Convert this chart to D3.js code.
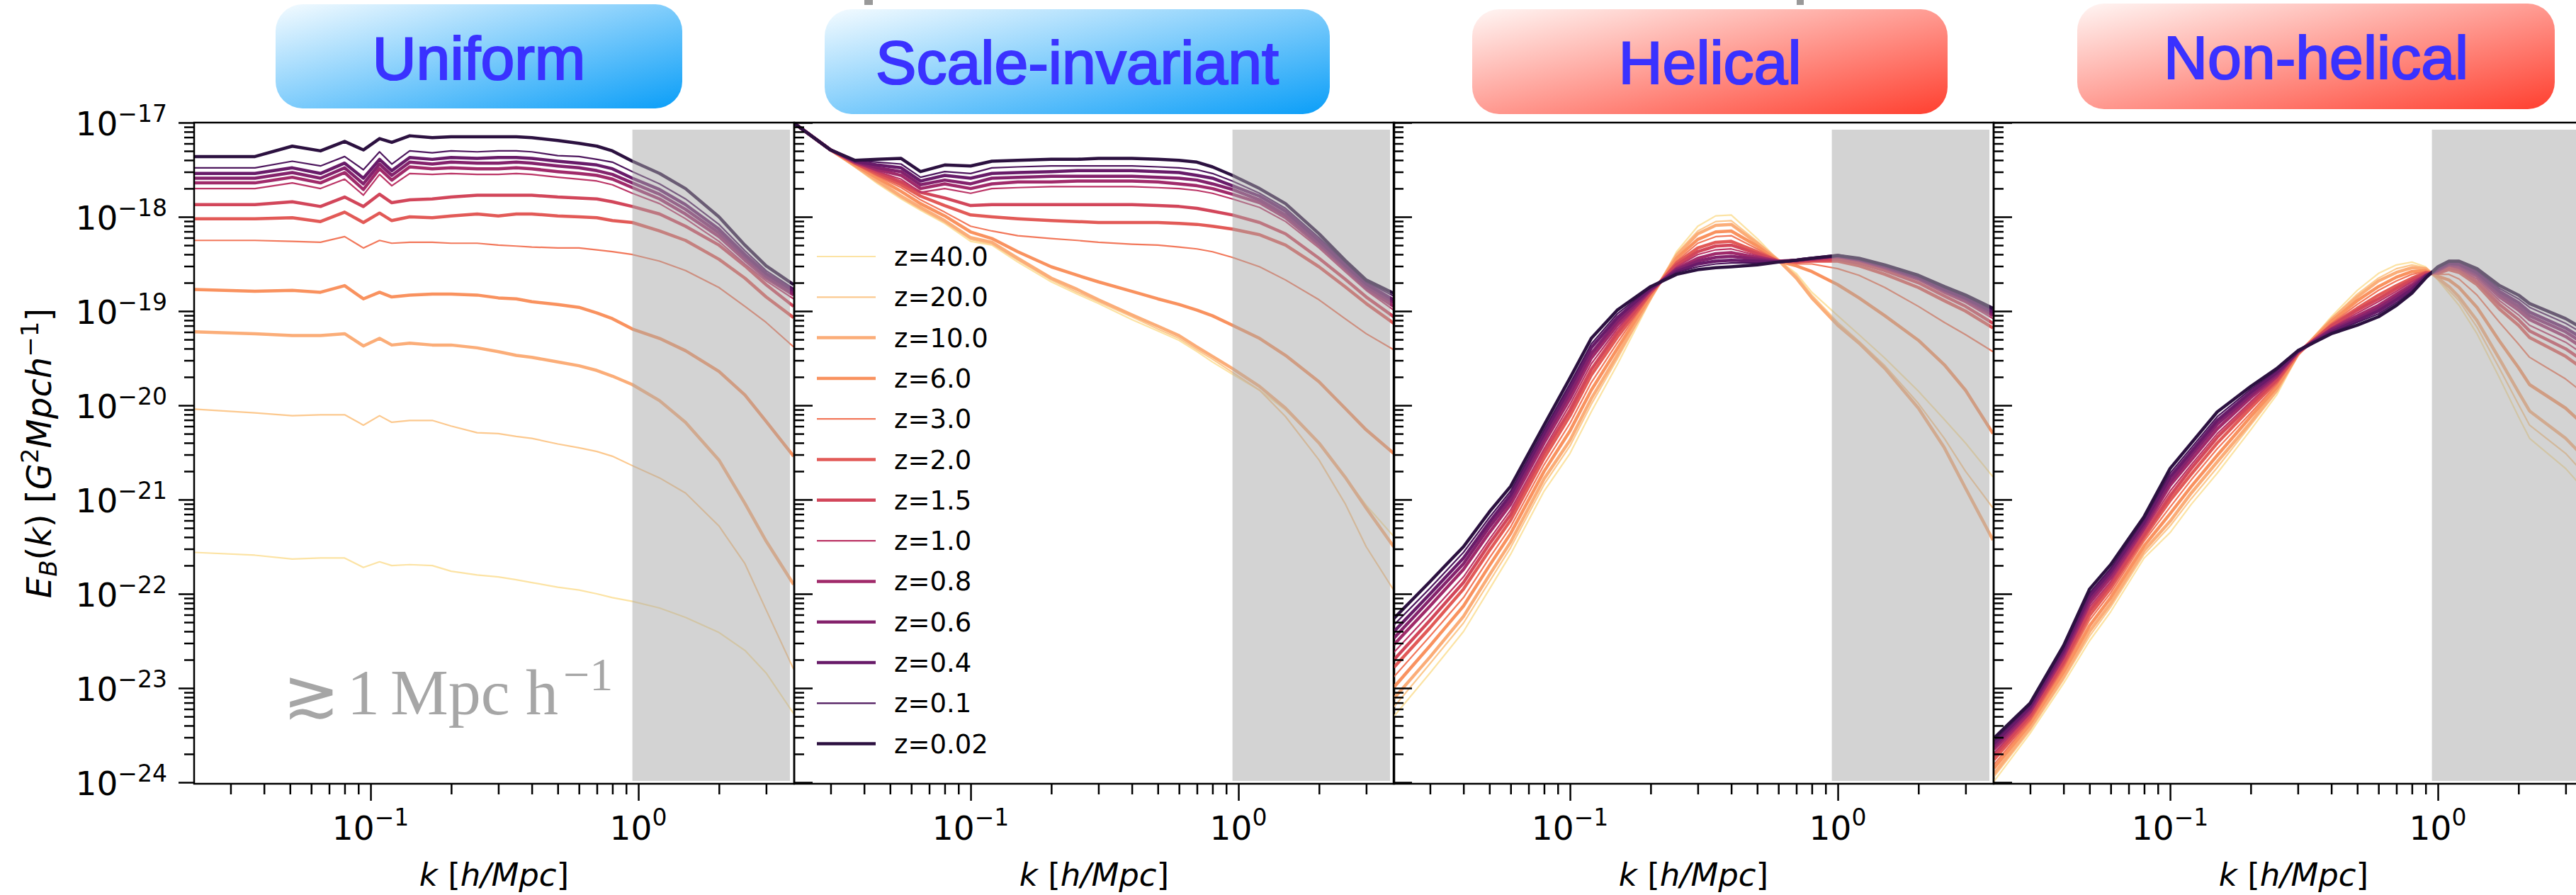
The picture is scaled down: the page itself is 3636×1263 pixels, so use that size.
<!DOCTYPE html>
<html>
<head>
<meta charset="utf-8">
<script src="https://cdn.jsdelivr.net/npm/d3@7"></script>
<style>
  body { margin: 0; background: white; }
  svg { display: block; }
</style>
</head>
<body>
<div id="container"></div>
<script>
let w = 3636;
let h = 1263;

// redshifts, in legend / drawing order (light first, dark drawn last)
let redshifts = ["40.0", "20.0", "10.0", "6.0", "3.0", "2.0", "1.5", "1.0", "0.8", "0.6", "0.4", "0.1", "0.02"];
let lineColors = ["#fce3a4", "#fcc98f", "#fbad78", "#f9925f", "#f2785b", "#e25a57", "#d2465a",
                  "#bb3566", "#a02a6a", "#84226c", "#681b69", "#4d165d", "#2c1140"];
let thinLine = [true, true, false, false, true, false, false, true, false, false, false, true, false];

let panelTitles = ["Uniform", "Scale-invariant", "Helical", "Non-helical"];
let yTickExponents = [17, 18, 19, 20, 21, 22, 23, 24];
let xTickValues = [0.1, 1];
let xTickExponents = ["\u22121", "0"];

// log10 of E_B(k), one row per redshift (same order as redshifts)
let kUniform = [0.022, 0.037, 0.051, 0.065, 0.08, 0.094, 0.108, 0.12, 0.14, 0.17, 0.2, 0.25, 0.3, 0.35, 0.4, 0.5, 0.6, 0.7, 0.8, 0.95, 1.2, 1.5, 2.0, 2.5, 3.0, 3.8];
let uniformLogE = [
  [-21.56,-21.59,-21.63,-21.62,-21.62,-21.72,-21.66,-21.70,-21.69,-21.70,-21.76,-21.80,-21.82,-21.85,-21.88,-21.93,-21.96,-22.00,-22.04,-22.08,-22.15,-22.25,-22.41,-22.60,-22.84,-23.27],
  [-20.04,-20.08,-20.11,-20.10,-20.10,-20.21,-20.11,-20.18,-20.16,-20.16,-20.22,-20.29,-20.30,-20.33,-20.35,-20.41,-20.45,-20.49,-20.54,-20.64,-20.77,-20.93,-21.28,-21.68,-22.17,-22.80],
  [-19.22,-19.24,-19.26,-19.26,-19.24,-19.37,-19.29,-19.36,-19.34,-19.36,-19.36,-19.39,-19.43,-19.47,-19.49,-19.54,-19.58,-19.63,-19.69,-19.78,-19.95,-20.18,-20.58,-21.04,-21.44,-21.90],
  [-18.77,-18.79,-18.78,-18.80,-18.73,-18.87,-18.80,-18.85,-18.83,-18.82,-18.82,-18.83,-18.86,-18.87,-18.90,-18.93,-18.96,-19.02,-19.08,-19.19,-19.29,-19.42,-19.64,-19.89,-20.17,-20.54],
  [-18.25,-18.25,-18.26,-18.27,-18.21,-18.33,-18.25,-18.28,-18.27,-18.27,-18.28,-18.28,-18.30,-18.31,-18.32,-18.33,-18.33,-18.35,-18.37,-18.40,-18.47,-18.57,-18.75,-18.95,-19.12,-19.38],
  [-18.02,-18.02,-18.01,-18.05,-17.95,-18.06,-17.96,-18.04,-18.00,-18.01,-17.99,-17.97,-17.99,-17.97,-17.97,-17.99,-18.00,-18.01,-18.04,-18.06,-18.15,-18.25,-18.45,-18.65,-18.85,-19.07],
  [-17.87,-17.87,-17.84,-17.89,-17.79,-17.89,-17.76,-17.85,-17.82,-17.81,-17.79,-17.77,-17.77,-17.77,-17.77,-17.79,-17.80,-17.81,-17.84,-17.89,-17.97,-18.10,-18.30,-18.52,-18.72,-18.95],
  [-17.70,-17.70,-17.64,-17.70,-17.60,-17.77,-17.55,-17.67,-17.54,-17.55,-17.54,-17.55,-17.55,-17.54,-17.55,-17.58,-17.60,-17.62,-17.66,-17.75,-17.86,-18.02,-18.26,-18.50,-18.68,-18.87],
  [-17.64,-17.64,-17.58,-17.64,-17.53,-17.71,-17.49,-17.61,-17.47,-17.49,-17.48,-17.49,-17.49,-17.48,-17.49,-17.52,-17.54,-17.56,-17.60,-17.69,-17.81,-17.97,-18.21,-18.46,-18.65,-18.83],
  [-17.59,-17.59,-17.53,-17.59,-17.48,-17.65,-17.44,-17.56,-17.42,-17.44,-17.42,-17.43,-17.43,-17.42,-17.43,-17.46,-17.48,-17.51,-17.55,-17.64,-17.76,-17.92,-18.17,-18.43,-18.63,-18.81],
  [-17.54,-17.54,-17.48,-17.54,-17.43,-17.59,-17.39,-17.51,-17.37,-17.39,-17.37,-17.38,-17.37,-17.37,-17.38,-17.41,-17.43,-17.45,-17.49,-17.59,-17.71,-17.87,-18.13,-18.40,-18.60,-18.78],
  [-17.48,-17.48,-17.41,-17.46,-17.36,-17.50,-17.31,-17.44,-17.30,-17.32,-17.30,-17.31,-17.30,-17.30,-17.31,-17.35,-17.36,-17.39,-17.42,-17.52,-17.65,-17.81,-18.08,-18.36,-18.57,-18.76],
  [-17.36,-17.36,-17.25,-17.30,-17.20,-17.29,-17.17,-17.21,-17.14,-17.16,-17.15,-17.15,-17.15,-17.15,-17.16,-17.19,-17.22,-17.25,-17.30,-17.41,-17.54,-17.70,-18.00,-18.30,-18.52,-18.72]
];

let kScale = [0.022, 0.03, 0.037, 0.045, 0.055, 0.065, 0.08, 0.1, 0.12, 0.15, 0.2, 0.25, 0.3, 0.4, 0.5, 0.6, 0.7, 0.8, 0.95, 1.2, 1.5, 2.0, 2.5, 3.0, 3.8];
let scaleLogE = [
  [-17.01,-17.29,-17.47,-17.65,-17.81,-17.93,-18.07,-18.26,-18.30,-18.48,-18.69,-18.82,-18.92,-19.09,-19.21,-19.31,-19.43,-19.54,-19.67,-19.84,-20.05,-20.40,-20.76,-21.06,-21.39],
  [-17.01,-17.29,-17.47,-17.64,-17.80,-17.92,-18.06,-18.24,-18.29,-18.46,-18.67,-18.80,-18.90,-19.06,-19.19,-19.29,-19.41,-19.51,-19.65,-19.84,-20.12,-20.58,-21.04,-21.50,-21.96],
  [-17.01,-17.29,-17.46,-17.62,-17.78,-17.90,-18.04,-18.22,-18.27,-18.44,-18.65,-18.77,-18.88,-19.04,-19.16,-19.26,-19.38,-19.48,-19.61,-19.80,-20.03,-20.40,-20.76,-21.09,-21.50],
  [-17.01,-17.29,-17.45,-17.59,-17.73,-17.86,-17.99,-18.16,-18.23,-18.37,-18.53,-18.62,-18.69,-18.79,-18.87,-18.93,-18.99,-19.05,-19.15,-19.29,-19.47,-19.75,-20.03,-20.26,-20.51],
  [-17.01,-17.29,-17.44,-17.57,-17.69,-17.82,-17.95,-18.10,-18.15,-18.20,-18.23,-18.25,-18.27,-18.29,-18.30,-18.32,-18.34,-18.37,-18.43,-18.53,-18.67,-18.88,-19.08,-19.24,-19.41],
  [-17.01,-17.29,-17.43,-17.55,-17.66,-17.78,-17.88,-17.98,-18.00,-18.02,-18.04,-18.05,-18.06,-18.06,-18.06,-18.07,-18.08,-18.10,-18.13,-18.19,-18.30,-18.53,-18.74,-18.92,-19.13],
  [-17.01,-17.29,-17.43,-17.53,-17.63,-17.74,-17.80,-17.88,-17.87,-17.87,-17.87,-17.87,-17.87,-17.87,-17.88,-17.89,-17.91,-17.94,-17.98,-18.06,-18.18,-18.44,-18.66,-18.85,-19.06],
  [-17.01,-17.29,-17.42,-17.52,-17.60,-17.74,-17.70,-17.75,-17.70,-17.69,-17.68,-17.68,-17.68,-17.68,-17.69,-17.70,-17.72,-17.75,-17.81,-17.90,-18.05,-18.33,-18.58,-18.78,-18.99],
  [-17.01,-17.29,-17.42,-17.50,-17.56,-17.70,-17.65,-17.70,-17.65,-17.63,-17.63,-17.62,-17.62,-17.62,-17.63,-17.65,-17.67,-17.70,-17.76,-17.85,-18.01,-18.30,-18.55,-18.76,-18.95],
  [-17.01,-17.29,-17.41,-17.48,-17.52,-17.66,-17.61,-17.65,-17.59,-17.58,-17.57,-17.57,-17.57,-17.57,-17.58,-17.59,-17.61,-17.65,-17.71,-17.82,-17.98,-18.28,-18.53,-18.74,-18.91],
  [-17.01,-17.29,-17.41,-17.45,-17.48,-17.62,-17.56,-17.59,-17.54,-17.53,-17.52,-17.51,-17.51,-17.51,-17.52,-17.53,-17.56,-17.59,-17.67,-17.78,-17.94,-18.25,-18.51,-18.71,-18.88],
  [-17.01,-17.29,-17.40,-17.42,-17.44,-17.58,-17.52,-17.54,-17.48,-17.47,-17.46,-17.46,-17.46,-17.46,-17.47,-17.48,-17.50,-17.54,-17.62,-17.75,-17.91,-18.22,-18.48,-18.69,-18.84],
  [-17.01,-17.29,-17.40,-17.39,-17.38,-17.52,-17.45,-17.46,-17.41,-17.40,-17.39,-17.39,-17.38,-17.38,-17.39,-17.40,-17.42,-17.47,-17.56,-17.70,-17.86,-18.18,-18.46,-18.67,-18.81]
];

let kHelical = [0.022, 0.03, 0.04, 0.05, 0.06, 0.08, 0.1, 0.12, 0.15, 0.2, 0.25, 0.3, 0.35, 0.4, 0.5, 0.6, 0.7, 0.8, 1.0, 1.2, 1.5, 2.0, 2.5, 3.0, 3.8];
let helicalLogE = [
  [-23.30,-22.84,-22.40,-21.95,-21.58,-20.91,-20.51,-20.07,-19.57,-18.88,-18.37,-18.10,-17.99,-17.98,-18.23,-18.46,-18.60,-18.80,-19.05,-19.25,-19.50,-19.85,-20.15,-20.40,-20.76],
  [-23.20,-22.74,-22.31,-21.87,-21.51,-20.84,-20.43,-19.99,-19.51,-18.87,-18.39,-18.15,-18.05,-18.04,-18.26,-18.46,-18.62,-18.83,-19.12,-19.32,-19.58,-19.98,-20.35,-20.70,-21.09],
  [-23.11,-22.67,-22.24,-21.80,-21.45,-20.78,-20.37,-19.93,-19.47,-18.86,-18.41,-18.18,-18.09,-18.08,-18.28,-18.46,-18.65,-18.86,-19.15,-19.34,-19.61,-20.03,-20.45,-20.88,-21.43],
  [-22.99,-22.55,-22.13,-21.70,-21.36,-20.70,-20.27,-19.84,-19.40,-18.84,-18.44,-18.24,-18.16,-18.15,-18.31,-18.47,-18.52,-18.58,-18.72,-18.86,-19.05,-19.31,-19.57,-19.84,-20.30],
  [-22.88,-22.45,-22.04,-21.62,-21.29,-20.63,-20.19,-19.76,-19.34,-18.82,-18.47,-18.28,-18.21,-18.20,-18.34,-18.47,-18.50,-18.50,-18.55,-18.62,-18.75,-18.95,-19.12,-19.25,-19.43],
  [-22.78,-22.36,-21.95,-21.54,-21.22,-20.56,-20.11,-19.68,-19.28,-18.81,-18.49,-18.33,-18.27,-18.26,-18.37,-18.47,-18.48,-18.47,-18.47,-18.52,-18.61,-18.75,-18.89,-19.00,-19.18],
  [-22.70,-22.28,-21.88,-21.47,-21.16,-20.50,-20.05,-19.62,-19.23,-18.80,-18.51,-18.37,-18.31,-18.30,-18.39,-18.47,-18.47,-18.46,-18.45,-18.49,-18.57,-18.70,-18.84,-18.95,-19.13],
  [-22.62,-22.21,-21.82,-21.42,-21.11,-20.46,-19.99,-19.56,-19.19,-18.79,-18.53,-18.40,-18.35,-18.34,-18.41,-18.47,-18.47,-18.45,-18.43,-18.47,-18.55,-18.67,-18.81,-18.91,-19.08],
  [-22.54,-22.13,-21.74,-21.35,-21.05,-20.40,-19.93,-19.50,-19.15,-18.78,-18.55,-18.44,-18.39,-18.38,-18.43,-18.47,-18.46,-18.45,-18.42,-18.46,-18.54,-18.66,-18.79,-18.89,-19.05],
  [-22.47,-22.06,-21.68,-21.29,-21.00,-20.35,-19.87,-19.45,-19.11,-18.77,-18.56,-18.47,-18.43,-18.42,-18.45,-18.48,-18.46,-18.44,-18.42,-18.45,-18.53,-18.65,-18.78,-18.87,-19.03],
  [-22.40,-22.00,-21.62,-21.24,-20.95,-20.30,-19.81,-19.39,-19.07,-18.76,-18.58,-18.50,-18.47,-18.46,-18.47,-18.48,-18.46,-18.44,-18.41,-18.45,-18.52,-18.64,-18.77,-18.86,-19.01],
  [-22.33,-21.94,-21.56,-21.19,-20.91,-20.26,-19.77,-19.35,-19.03,-18.75,-18.59,-18.53,-18.50,-18.49,-18.49,-18.48,-18.46,-18.44,-18.41,-18.44,-18.51,-18.63,-18.75,-18.84,-18.99],
  [-22.26,-21.87,-21.50,-21.13,-20.86,-20.21,-19.71,-19.29,-18.99,-18.74,-18.61,-18.56,-18.54,-18.53,-18.51,-18.48,-18.46,-18.44,-18.41,-18.44,-18.51,-18.62,-18.74,-18.83,-18.97]
];

let kNonHelical = [0.022, 0.03, 0.04, 0.05, 0.06, 0.08, 0.1, 0.12, 0.15, 0.2, 0.25, 0.3, 0.4, 0.5, 0.6, 0.7, 0.8, 0.9, 1.0, 1.1, 1.2, 1.4, 1.7, 2.0, 2.2, 3.0, 3.8];
let nonHelicalLogE = [
  [-23.99,-23.48,-22.95,-22.50,-22.19,-21.62,-21.35,-21.05,-20.72,-20.26,-19.89,-19.47,-19.06,-18.78,-18.60,-18.51,-18.48,-18.53,-18.67,-18.81,-18.94,-19.24,-19.71,-20.12,-20.35,-20.67,-21.00],
  [-23.94,-23.45,-22.91,-22.45,-22.14,-21.58,-21.28,-20.99,-20.66,-20.21,-19.86,-19.47,-19.08,-18.82,-18.65,-18.55,-18.51,-18.54,-18.66,-18.78,-18.89,-19.17,-19.61,-19.99,-20.21,-20.51,-20.83],
  [-23.91,-23.42,-22.88,-22.40,-22.10,-21.54,-21.23,-20.93,-20.60,-20.18,-19.84,-19.46,-19.09,-18.85,-18.68,-18.59,-18.54,-18.55,-18.65,-18.74,-18.85,-19.10,-19.51,-19.86,-20.06,-20.35,-20.65],
  [-23.85,-23.38,-22.83,-22.34,-22.04,-21.49,-21.15,-20.86,-20.53,-20.12,-19.81,-19.46,-19.11,-18.89,-18.74,-18.64,-18.58,-18.57,-18.63,-18.67,-18.75,-18.96,-19.32,-19.60,-19.78,-20.03,-20.30],
  [-23.81,-23.35,-22.79,-22.28,-21.99,-21.44,-21.08,-20.79,-20.46,-20.08,-19.78,-19.45,-19.13,-18.93,-18.78,-18.68,-18.61,-18.58,-18.61,-18.61,-18.66,-18.83,-19.12,-19.35,-19.49,-19.72,-19.95],
  [-23.76,-23.32,-22.75,-22.23,-21.94,-21.40,-21.01,-20.73,-20.40,-20.03,-19.75,-19.45,-19.15,-18.97,-18.83,-18.73,-18.65,-18.59,-18.60,-18.56,-18.59,-18.72,-18.98,-19.15,-19.28,-19.48,-19.69],
  [-23.72,-23.29,-22.72,-22.18,-21.90,-21.37,-20.96,-20.67,-20.34,-19.99,-19.73,-19.44,-19.16,-18.99,-18.87,-18.76,-18.67,-18.60,-18.59,-18.54,-18.56,-18.69,-18.93,-19.09,-19.21,-19.40,-19.60],
  [-23.69,-23.27,-22.69,-22.14,-21.87,-21.33,-20.91,-20.63,-20.30,-19.96,-19.71,-19.44,-19.18,-19.02,-18.90,-18.79,-18.69,-18.61,-18.58,-18.52,-18.55,-18.66,-18.89,-19.04,-19.15,-19.33,-19.53],
  [-23.65,-23.25,-22.66,-22.10,-21.83,-21.30,-20.85,-20.58,-20.25,-19.92,-19.69,-19.43,-19.19,-19.05,-18.94,-18.82,-18.72,-18.62,-18.57,-18.51,-18.53,-18.63,-18.85,-18.99,-19.09,-19.27,-19.46],
  [-23.62,-23.22,-22.63,-22.06,-21.79,-21.27,-20.81,-20.53,-20.20,-19.89,-19.67,-19.43,-19.20,-19.08,-18.97,-18.85,-18.74,-18.63,-18.56,-18.50,-18.51,-18.61,-18.82,-18.95,-19.05,-19.22,-19.41],
  [-23.59,-23.20,-22.60,-22.02,-21.76,-21.24,-20.76,-20.49,-20.16,-19.86,-19.65,-19.43,-19.22,-19.10,-19.00,-18.88,-18.77,-18.63,-18.55,-18.49,-18.50,-18.59,-18.79,-18.91,-19.01,-19.18,-19.36],
  [-23.56,-23.18,-22.58,-21.99,-21.73,-21.21,-20.72,-20.45,-20.12,-19.83,-19.63,-19.42,-19.23,-19.12,-19.03,-18.91,-18.79,-18.64,-18.54,-18.48,-18.48,-18.57,-18.76,-18.87,-18.96,-19.13,-19.30],
  [-23.53,-23.16,-22.55,-21.95,-21.69,-21.18,-20.67,-20.40,-20.07,-19.80,-19.61,-19.42,-19.24,-19.15,-19.06,-18.94,-18.81,-18.65,-18.53,-18.47,-18.47,-18.55,-18.73,-18.83,-18.92,-19.08,-19.25]
];

let viz = d3.select("#container")
  .append("svg")
    .attr("width", w)
    .attr("height", h)
    .style("background-color", "white");

let defs = viz.append("defs");

function addGradient(id, c0, c1) {
  let g = defs.append("linearGradient")
      .attr("id", id)
      .attr("x1", 0).attr("y1", 0)
      .attr("x2", 1).attr("y2", 1);
  g.append("stop").attr("offset", "0%").attr("stop-color", c0);
  g.append("stop").attr("offset", "100%").attr("stop-color", c1);
}
addGradient("blueGrad", "#f4fbff", "#0a9ef8");
addGradient("redGrad", "#fff6f4", "#ff3f2f");

let plotTop = 173;
let plotBottom = 1106;
let plotW = 847;

let y = d3.scaleLog()
    .domain([1e-17, Math.pow(10, -24.015)])
    .range([plotTop, plotBottom]);

let panels = [
  {k: kUniform, logE: uniformLogE, left: 274, box: [389, 6, 574, 147], grad: "blueGrad", base: 112},
  {k: kScale, logE: scaleLogE, left: 1121, box: [1164, 13, 713, 148], grad: "blueGrad", base: 118},
  {k: kHelical, logE: helicalLogE, left: 1967, box: [2078, 13, 671, 148], grad: "redGrad", base: 118},
  {k: kNonHelical, logE: nonHelicalLogE, left: 2814, box: [2932, 5, 674, 149], grad: "redGrad", base: 111}
];

// title boxes
panels.forEach(function(p, i) {
  viz.append("rect")
      .attr("x", p.box[0])
      .attr("y", p.box[1])
      .attr("width", p.box[2])
      .attr("height", p.box[3])
      .attr("rx", 38)
      .attr("ry", 38)
      .attr("fill", "url(#" + p.grad + ")");

  viz.append("text")
      .text(panelTitles[i])
      .attr("x", p.box[0] + p.box[2] / 2)
      .attr("y", p.base)
      .attr("text-anchor", "middle")
      .attr("fill", "#3a32ff")
      .attr("stroke", "#3a32ff")
      .attr("stroke-width", 2.2)
      .style("font-size", "86px")
      .style("font-family", "Liberation Sans, Arial, sans-serif");
});

// little cut-off grey marks at the top edge
viz.append("rect").attr("x", 1220).attr("y", 0).attr("width", 12).attr("height", 7).attr("fill", "#999999");
viz.append("rect").attr("x", 2536).attr("y", 0).attr("width", 10).attr("height", 7).attr("fill", "#999999");

let line = d3.line();

panels.forEach(function(p, pi) {
  let x = d3.scaleLog()
      .domain([Math.pow(10, -1.659), Math.pow(10, 0.582)])
      .range([p.left, p.left + plotW]);

  defs.append("clipPath")
      .attr("id", "clip" + pi)
    .append("rect")
      .attr("x", p.left)
      .attr("y", plotTop)
      .attr("width", plotW)
      .attr("height", plotBottom - plotTop);

  let g = viz.append("g").attr("clip-path", "url(#clip" + pi + ")");

  p.logE.forEach(function(row, si) {
    let pts = row.map(function(v, j) { return [x(p.k[j]), y(Math.pow(10, v))]; });
    g.append("path")
        .attr("d", line(pts))
        .attr("fill", "none")
        .style("stroke", lineColors[si])
        .style("stroke-width", thinLine[si] ? 2.2 : 4.5)
        .style("stroke-linejoin", "round");
  });

  // shaded small-scale region, drawn over the curves
  g.append("rect")
      .attr("x", x(0.95))
      .attr("y", 183)
      .attr("width", p.left + plotW - 6 - x(0.95))
      .attr("height", 1102 - 183)
      .attr("fill", "#a8a8a8")
      .attr("fill-opacity", 0.5);

  // frame
  viz.append("rect")
      .attr("x", p.left)
      .attr("y", plotTop)
      .attr("width", plotW)
      .attr("height", plotBottom - plotTop)
      .attr("fill", "none")
      .style("stroke", "black")
      .style("stroke-width", 2.5);

  // x axis ticks
  let xMinor = x.ticks().filter(function(t) { return xTickValues.indexOf(t) < 0; });
  let xAxisMinor = d3.axisBottom(x).tickValues(xMinor).tickSize(15).tickSizeOuter(0).tickFormat("");
  let xAxisMajor = d3.axisBottom(x).tickValues(xTickValues).tickSize(24).tickSizeOuter(0).tickFormat("");
  [xAxisMinor, xAxisMajor].forEach(function(ax) {
    let a = viz.append("g").attr("transform", "translate(0," + plotBottom + ")").call(ax);
    a.select(".domain").remove();
    a.selectAll("line").style("stroke", "black").style("stroke-width", 2.5);
  });

  xTickValues.forEach(function(t, ti) {
    let lab = viz.append("text")
        .attr("x", x(t))
        .attr("y", 1185)
        .attr("text-anchor", "middle")
        .attr("fill", "black")
        .style("font-size", "47px")
        .style("font-family", "DejaVu Sans");
    lab.append("tspan").text("10");
    lab.append("tspan").text(xTickExponents[ti]).attr("dy", -20).style("font-size", "33px");
  });

  let xl = viz.append("text")
      .attr("x", p.left + plotW / 2)
      .attr("y", 1250)
      .attr("text-anchor", "middle")
      .attr("fill", "black")
      .style("font-size", "45px")
      .style("font-family", "DejaVu Sans");
  xl.append("tspan").text("k").style("font-style", "italic");
  xl.append("tspan").text(" [");
  xl.append("tspan").text("h/Mpc").style("font-style", "italic");
  xl.append("tspan").text("]");

  // y axis ticks: outward with labels on the first panel, inward on the others
  let yMajor = yTickExponents.map(function(n) { return Math.pow(10, -n); });
  let yMinor = y.ticks().filter(function(t) {
    let e = Math.log10(t);
    return Math.abs(e - Math.round(e)) > 1e-6;
  });
  let makeAxis = pi === 0 ? d3.axisLeft : d3.axisRight;
  let yAxisMinor = makeAxis(y).tickValues(yMinor).tickSize(14).tickSizeOuter(0).tickFormat("");
  let yAxisMajor = makeAxis(y).tickValues(yMajor).tickSize(pi === 0 ? 22 : 26).tickSizeOuter(0).tickFormat("");
  [yAxisMinor, yAxisMajor].forEach(function(ax) {
    let a = viz.append("g").attr("transform", "translate(" + p.left + ",0)").call(ax);
    a.select(".domain").remove();
    a.selectAll("line").style("stroke", "black").style("stroke-width", 2.5);
  });

  if (pi === 0) {
    yTickExponents.forEach(function(n) {
      let lab = viz.append("text")
          .attr("x", 236)
          .attr("y", y(Math.pow(10, -n)) + 18)
          .attr("text-anchor", "end")
          .attr("fill", "black")
          .style("font-size", "47px")
          .style("font-family", "DejaVu Sans");
      lab.append("tspan").text("10");
      lab.append("tspan").text("\u2212" + n).attr("dy", -19).style("font-size", "33px");
    });
  }
});

// y axis label
let yl = viz.append("text")
    .attr("transform", "translate(72," + ((plotTop + plotBottom) / 2) + ") rotate(-90)")
    .attr("text-anchor", "middle")
    .attr("fill", "black")
    .style("font-size", "48px")
    .style("font-family", "DejaVu Sans");
yl.append("tspan").text("E").style("font-style", "italic");
yl.append("tspan").text("B").style("font-style", "italic").style("font-size", "34px").attr("dy", 8);
yl.append("tspan").text("(").attr("dy", -8);
yl.append("tspan").text("k").style("font-style", "italic");
yl.append("tspan").text(") [");
yl.append("tspan").text("G").style("font-style", "italic");
yl.append("tspan").text("2").style("font-size", "34px").attr("dy", -18);
yl.append("tspan").text("Mpch").style("font-style", "italic").attr("dy", 18);
yl.append("tspan").text("\u22121").style("font-size", "34px").attr("dy", -18);
yl.append("tspan").text("]").attr("dy", 18);

// legend inside the second panel
redshifts.forEach(function(z, i) {
  let ly = 362 + i * 57.3;
  viz.append("line")
      .attr("x1", 1153).attr("x2", 1236)
      .attr("y1", ly).attr("y2", ly)
      .style("stroke", lineColors[i])
      .style("stroke-width", thinLine[i] ? 2.2 : 4.5);
  viz.append("text")
      .text("z=" + z)
      .attr("x", 1262)
      .attr("y", ly + 13)
      .attr("fill", "black")
      .style("font-size", "37px")
      .style("font-family", "DejaVu Sans");
});

// scale annotation in the first panel
let ann = viz.append("g").attr("fill", "#a6a6a6");
ann.append("text").text("\u2273").attr("x", 399).attr("y", 1012)
    .style("font-size", "96px").style("font-family", "DejaVu Serif");
ann.append("text").text("1").attr("x", 490).attr("y", 1008)
    .style("font-size", "92px").style("font-family", "Liberation Serif");
ann.append("text").text("Mpc").attr("x", 551).attr("y", 1008)
    .style("font-size", "92px").style("font-family", "Liberation Serif");
ann.append("text").text("h").attr("x", 742).attr("y", 1008)
    .style("font-size", "92px").style("font-family", "Liberation Serif");
ann.append("text").text("\u22121").attr("x", 795).attr("y", 974)
    .style("font-size", "66px").style("font-family", "Liberation Serif");
</script>
</body>
</html>
